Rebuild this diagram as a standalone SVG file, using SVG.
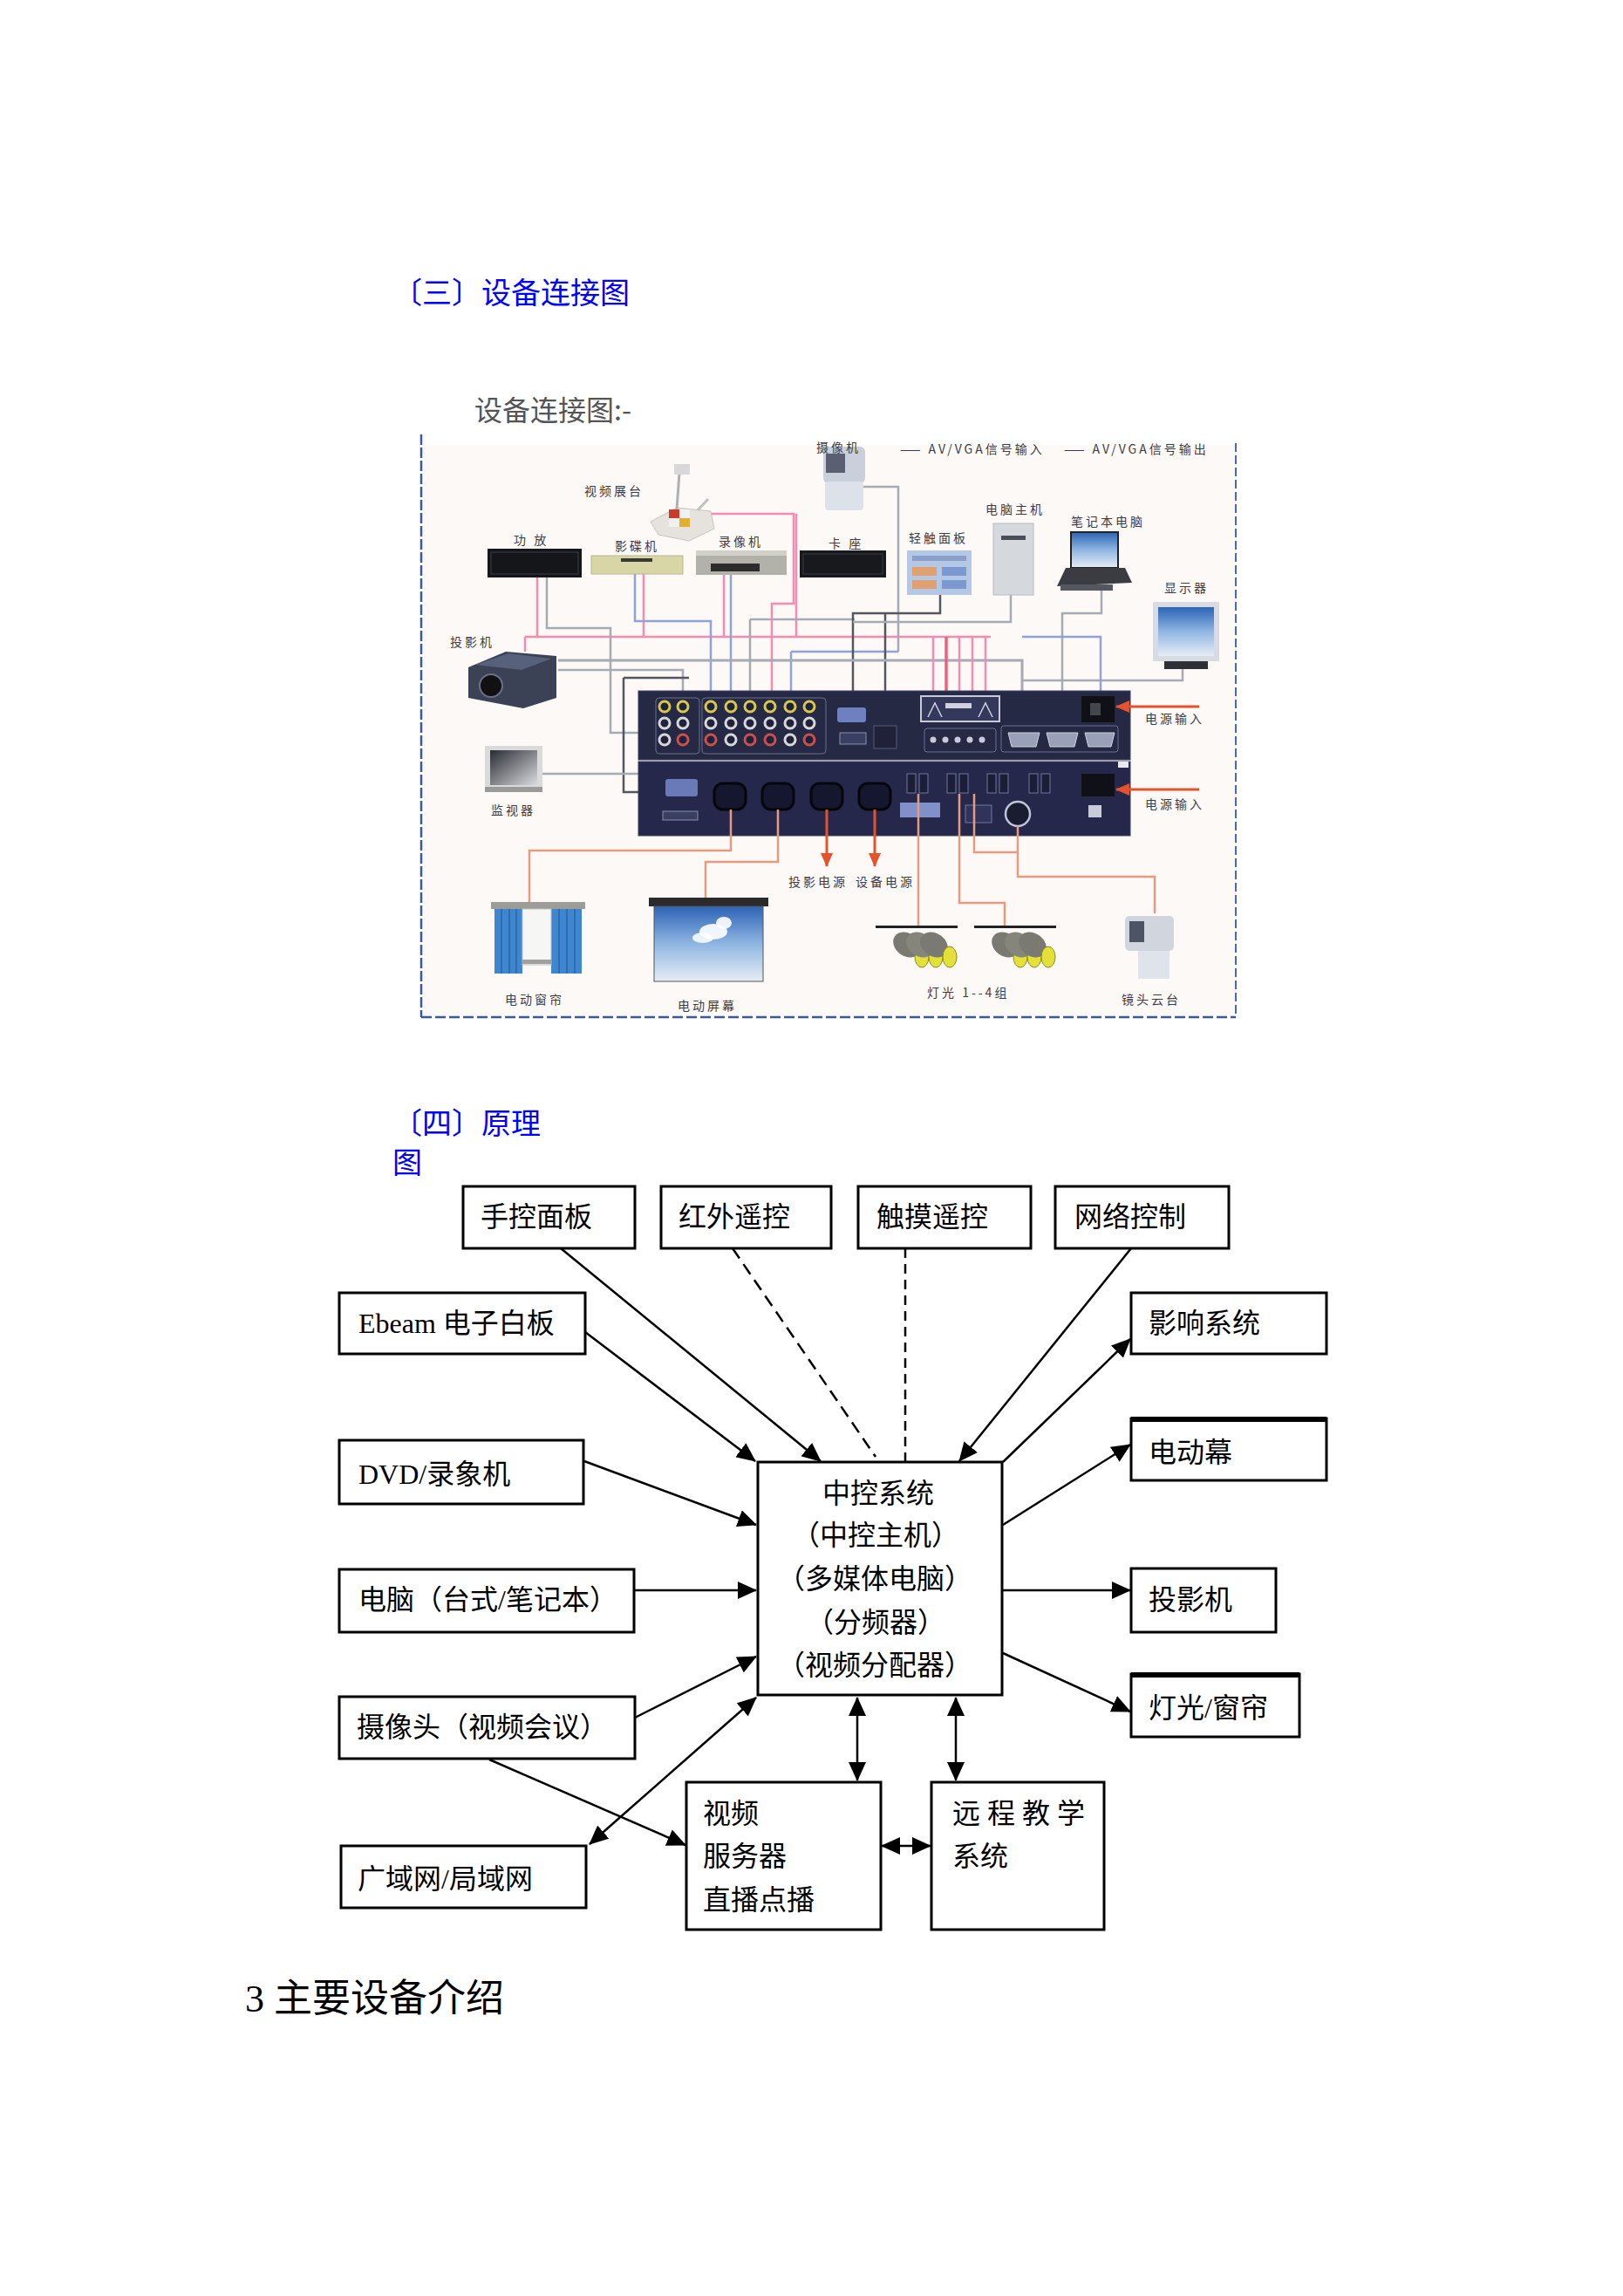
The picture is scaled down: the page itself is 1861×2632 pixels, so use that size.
<svg xmlns="http://www.w3.org/2000/svg" width="1861" height="2632" viewBox="0 0 1861 2632">
<defs>
<style>
.hd{font-family:"Noto Sans CJK SC",sans-serif;font-size:34px;fill:#0000ff}
.sub{font-family:"Noto Sans CJK SC",sans-serif;font-size:32px;fill:#555}
.bt{font-family:"Liberation Serif","Noto Sans CJK SC",serif;font-size:32px;fill:#000}
.bx{fill:#fff;stroke:#000;stroke-width:3}
.cn{fill:none;stroke:#000;stroke-width:2.5}
.lb{font-family:"Noto Sans CJK SC",sans-serif;font-size:14px;fill:#3c3c46;letter-spacing:3px}
.cg{fill:none;stroke:#a6aab2;stroke-width:2.5}
.cp{fill:none;stroke:#f28cb0;stroke-width:2.5}
.cb{fill:none;stroke:#90a2d8;stroke-width:2.5}
.cd{fill:none;stroke:#55575f;stroke-width:2.5}
.cs{fill:none;stroke:#e69a80;stroke-width:2.5}
.cr{fill:none;stroke:#e4532c;stroke-width:3}
.ry{fill:#20223a;stroke:#d8c850;stroke-width:3}
.rw{fill:#20223a;stroke:#d8d8dc;stroke-width:3}
.rr{fill:#20223a;stroke:#c85050;stroke-width:3}
.sk{fill:#15172e;stroke:#05060c;stroke-width:3}
</style>
<marker id="ah" viewBox="0 0 22 20" refX="21" refY="10" markerWidth="22" markerHeight="20" markerUnits="userSpaceOnUse" orient="auto-start-reverse"><path d="M0,0 L22,10 L0,20 Z" fill="#000"/></marker>
<marker id="ar" viewBox="0 0 16 14" refX="15" refY="7" markerWidth="16" markerHeight="14" markerUnits="userSpaceOnUse" orient="auto"><path d="M0,0 L16,7 L0,14 Z" fill="#e4532c"/></marker>
<linearGradient id="sky" x1="0" y1="0" x2="0" y2="1"><stop offset="0" stop-color="#2d63b6"/><stop offset="0.5" stop-color="#8fb6e2"/><stop offset="1" stop-color="#e6edf5"/></linearGradient>
<linearGradient id="tv" x1="0" y1="0" x2="1" y2="1"><stop offset="0" stop-color="#2a2c34"/><stop offset="1" stop-color="#d8dade"/></linearGradient>
</defs>
<rect width="1861" height="2632" fill="#fff"/>

<text class="hd" x="450" y="348">〔三〕设备连接图</text>
<text class="sub" x="544" y="482">设备连接图:-</text>

<g id="photo">
<rect x="483" y="510" width="934" height="656" fill="#fcf9f7"/>
<line x1="483" y1="498" x2="483" y2="1166" stroke="#3a5aa0" stroke-width="2.5" stroke-dasharray="12 3"/>
<line x1="1417" y1="508" x2="1417" y2="1166" stroke="#4a6ab0" stroke-width="2" stroke-dasharray="10 4"/>
<line x1="483" y1="1166" x2="1417" y2="1166" stroke="#3a5aa0" stroke-width="2.5" stroke-dasharray="12 4"/>

<path class="cp" d="M602,730 H1136 M602,730 V747 M616,662 V730 M738,658 V730 M830,659 V730 M913,589 V730"/>
<path class="cg" d="M627,662 V720 H700 V840 H732"/>
<path class="cb" d="M728,658 V712 H815 V792"/>
<path class="cb" d="M838,659 V792"/>
<path class="cg" d="M860,710 V792 M860,710 H980"/>
<path class="cp" d="M815,589 H910 V692 H885 V792"/>
<path class="cg" d="M990,558 H1030 V747"/>
<path class="cb" d="M907,747 H1030 M907,747 V792"/>
<path class="cd" d="M1078,682 V703 H978 V792 M1015,703 V858"/>
<path class="cg" d="M1159,682 V713 H978"/>
<path class="cg" d="M640,757 H1172 V792" style="stroke-width:3"/>
<path class="cg" d="M640,768 H783 V792"/>
<path class="cd" d="M715,777 V908 H732 M715,777 H790"/>
<path class="cg" d="M1263,677 V703 H1218 V858"/>
<path class="cg" d="M1356,767 V780 H1172"/>
<path class="cb" d="M1172,730 H1262 V792"/>
<path class="cp" d="M1070,730 V858 M1100,730 V858 M1115,730 V858 M1130,730 V858"/>
<path d="M1085,730 V858" fill="none" stroke="#f0607e" stroke-width="3.5"/>
<path class="cg" d="M622,887 H732"/>

<rect x="944" y="512" width="48" height="42" rx="6" fill="#c9d0dc"/>
<rect x="947" y="520" width="22" height="22" fill="#5a6072"/>
<rect x="946" y="552" width="44" height="33" rx="4" fill="#dde2ea"/>
<polygon points="746,598 776,582 815,586 819,606 790,620 755,613" fill="#e6e2de" stroke="#c8c4c0"/>
<rect x="767" y="584" width="12" height="10" fill="#c83c2c"/><rect x="779" y="584" width="12" height="10" fill="#f0f0f0"/>
<rect x="767" y="594" width="12" height="10" fill="#f0f0f0"/><rect x="779" y="594" width="12" height="10" fill="#e0b030"/>
<line x1="776" y1="584" x2="779" y2="542" stroke="#b0b0b0" stroke-width="3"/>
<rect x="773" y="532" width="18" height="12" fill="#d8d8d8"/>
<line x1="800" y1="585" x2="812" y2="572" stroke="#c0c0c0" stroke-width="3"/>

<rect x="559" y="629" width="108" height="33" fill="#15161a"/>
<rect x="563" y="633" width="100" height="25" fill="none" stroke="#3a3c44"/>
<rect x="678" y="637" width="105" height="21" fill="#d8d6a6" stroke="#b8b690"/>
<rect x="712" y="640" width="36" height="4" fill="#3a3a30"/>
<rect x="798" y="631" width="104" height="28" fill="#b2b2aa"/>
<rect x="798" y="631" width="104" height="6" fill="#d0d0c8"/>
<rect x="815" y="646" width="56" height="9" fill="#2c2c2c"/>
<rect x="917" y="631" width="99" height="31" fill="#18191d"/>
<rect x="921" y="635" width="91" height="23" fill="none" stroke="#3a3c44"/>
<rect x="1040" y="631" width="74" height="51" fill="#b4c8e6"/>
<rect x="1046" y="637" width="62" height="6" fill="#8aa0c8"/>
<rect x="1046" y="650" width="28" height="10" fill="#e0a070"/><rect x="1080" y="650" width="28" height="10" fill="#7c98d0"/>
<rect x="1046" y="665" width="28" height="10" fill="#e0a070"/><rect x="1080" y="665" width="28" height="10" fill="#7c98d0"/>
<rect x="1139" y="600" width="46" height="82" fill="#d5d9de" stroke="#b8bcc2"/>
<rect x="1148" y="614" width="28" height="5" fill="#4a4e58"/>
<rect x="1228" y="610" width="54" height="41" fill="url(#sky)" stroke="#222" stroke-width="2"/>
<polygon points="1222,651 1290,651 1298,668 1212,672" fill="#3a3c42"/>
<rect x="1216" y="670" width="60" height="7" fill="#55575e"/>
<rect x="1322" y="690" width="76" height="68" fill="#d8dce2"/>
<rect x="1328" y="696" width="64" height="56" fill="url(#sky)"/>
<rect x="1335" y="758" width="50" height="9" fill="#2e3036"/>
<polygon points="537,765 580,747 638,752 638,800 600,812 537,800" fill="#3b4256"/>
<polygon points="545,762 583,749 632,755 598,768" fill="#56617c"/>
<circle cx="563" cy="786" r="13" fill="#111" stroke="#6a7088" stroke-width="2"/>
<rect x="556" y="855" width="66" height="53" fill="#dadada"/>
<rect x="562" y="860" width="54" height="40" fill="url(#tv)"/>
<rect x="556" y="902" width="66" height="6" fill="#9a9a9a"/>

<rect x="732" y="792" width="564" height="79" fill="#262944" stroke="#3c4060"/>
<rect x="732" y="873" width="564" height="85" fill="#25284a" stroke="#3c4060"/>
<rect x="752" y="800" width="50" height="64" rx="4" fill="none" stroke="#6a7090"/>
<rect x="805" y="800" width="142" height="64" rx="4" fill="none" stroke="#6a7090"/>
<g>
<circle class="ry" cx="762" cy="810" r="6"/><circle class="ry" cx="783" cy="810" r="6"/>
<circle class="rw" cx="762" cy="829" r="6"/><circle class="rw" cx="783" cy="829" r="6"/>
<circle class="rw" cx="762" cy="848" r="6"/><circle class="rr" cx="783" cy="848" r="6"/>
<circle class="ry" cx="815" cy="810" r="6"/><circle class="ry" cx="838" cy="810" r="6"/><circle class="ry" cx="860" cy="810" r="6"/><circle class="ry" cx="883" cy="810" r="6"/><circle class="ry" cx="906" cy="810" r="6"/><circle class="ry" cx="928" cy="810" r="6"/>
<circle class="rw" cx="815" cy="829" r="6"/><circle class="rw" cx="838" cy="829" r="6"/><circle class="rw" cx="860" cy="829" r="6"/><circle class="rw" cx="883" cy="829" r="6"/><circle class="rw" cx="906" cy="829" r="6"/><circle class="rw" cx="928" cy="829" r="6"/>
<circle class="rr" cx="815" cy="848" r="6"/><circle class="rw" cx="838" cy="848" r="6"/><circle class="rr" cx="860" cy="848" r="6"/><circle class="rr" cx="883" cy="848" r="6"/><circle class="rw" cx="906" cy="848" r="6"/><circle class="rr" cx="928" cy="848" r="6"/>
</g>
<rect x="960" y="811" width="33" height="17" rx="3" fill="#6f80c0"/>
<rect x="963" y="840" width="30" height="13" fill="#3a3e60" stroke="#8a90b0"/>
<rect x="1002" y="832" width="26" height="26" fill="#20223a" stroke="#555a78"/>
<rect x="1056" y="798" width="90" height="29" fill="#34385a" stroke="#c8cad8" stroke-width="2"/>
<path d="M1064,822 L1072,806 L1080,822 M1122,822 L1130,806 L1138,822" fill="none" stroke="#d0d2e0" stroke-width="1.5"/>
<rect x="1084" y="806" width="30" height="6" fill="#d0d2e0"/>
<rect x="1060" y="835" width="82" height="27" rx="3" fill="none" stroke="#6a7090"/>
<g fill="#c8cad8"><circle cx="1070" cy="848" r="3.5"/><circle cx="1084" cy="848" r="3.5"/><circle cx="1098" cy="848" r="3.5"/><circle cx="1112" cy="848" r="3.5"/><circle cx="1126" cy="848" r="3.5"/></g>
<rect x="1148" y="832" width="134" height="30" rx="3" fill="none" stroke="#6a7090"/>
<g fill="#9aa0b8" stroke="#d0d2e0"><polygon points="1156,840 1192,840 1188,856 1160,856"/><polygon points="1200,840 1236,840 1232,856 1204,856"/><polygon points="1244,840 1278,840 1274,856 1248,856"/></g>
<rect x="1240" y="798" width="38" height="30" fill="#101116"/>
<rect x="1250" y="806" width="12" height="14" fill="#44464e"/>
<rect x="1282" y="873" width="12" height="7" fill="#e8e8f0"/>
<rect x="763" y="893" width="37" height="20" rx="3" fill="#6a7ab8"/>
<rect x="760" y="930" width="40" height="10" fill="#3a3e60" stroke="#8a90b0"/>
<rect class="sk" x="819" y="898" width="36" height="30" rx="10"/>
<rect class="sk" x="874" y="898" width="36" height="30" rx="10"/>
<rect class="sk" x="930" y="898" width="36" height="30" rx="10"/>
<rect class="sk" x="985" y="898" width="36" height="30" rx="10"/>
<g fill="#1c1e36" stroke="#7078a0"><rect x="1040" y="887" width="10" height="22"/><rect x="1054" y="887" width="10" height="22"/><rect x="1086" y="887" width="10" height="22"/><rect x="1100" y="887" width="10" height="22"/><rect x="1132" y="887" width="10" height="22"/><rect x="1146" y="887" width="10" height="22"/><rect x="1180" y="887" width="10" height="22"/><rect x="1194" y="887" width="10" height="22"/></g>
<rect x="1032" y="920" width="46" height="17" fill="#8090c8"/>
<rect x="1107" y="923" width="30" height="20" fill="#30345a" stroke="#7078a0"/>
<circle cx="1167" cy="933" r="14" fill="#1a1c30" stroke="#c0c4d8" stroke-width="2.5"/>
<rect x="1240" y="887" width="38" height="26" fill="#101116"/>
<rect x="1248" y="923" width="15" height="14" fill="#c8ccd8"/>

<path class="cr" d="M1375,810 H1280" marker-end="url(#ar)"/>
<path class="cr" d="M1375,905 H1280" marker-end="url(#ar)"/>

<path class="cs" d="M838,928 V975 H607 V1034"/>
<path class="cs" d="M892,928 V988 H809 V1029"/>
<path class="cr" d="M948,928 V993" marker-end="url(#ar)"/>
<path class="cr" d="M1003,928 V993" marker-end="url(#ar)"/>
<path class="cs" d="M1053,910 V1063"/>
<path class="cs" d="M1100,910 V1035 H1152 V1063"/>
<path class="cs" d="M1117,910 V977 H1167 M1167,947 V1005 H1324 V1047"/>

<rect x="563" y="1034" width="108" height="8" fill="#9c9c98"/>
<rect x="567" y="1042" width="32" height="74" fill="#3f86d0"/>
<rect x="632" y="1042" width="35" height="74" fill="#3f86d0"/>
<path d="M575,1042 V1116 M584,1042 V1116 M592,1042 V1116 M641,1042 V1116 M650,1042 V1116 M659,1042 V1116" stroke="#2f6cb0" stroke-width="2"/>
<rect x="599" y="1042" width="33" height="64" fill="#f6f6f4" stroke="#c0c0c0"/>
<rect x="599" y="1100" width="33" height="5" fill="#a0a0a0"/>
<rect x="744" y="1029" width="137" height="10" fill="#2a2a2a"/>
<rect x="750" y="1039" width="125" height="86" fill="url(#sky)" stroke="#555"/>
<ellipse cx="818" cy="1068" rx="16" ry="9" fill="#fff" opacity="0.9"/>
<ellipse cx="830" cy="1058" rx="9" ry="7" fill="#fff" opacity="0.9"/>
<ellipse cx="806" cy="1075" rx="12" ry="6" fill="#fff" opacity="0.85"/>
<rect x="1004" y="1061" width="94" height="3" fill="#222"/>
<rect x="1117" y="1061" width="94" height="3" fill="#222"/>
<g id="lamps1">
<ellipse cx="1040" cy="1083" rx="17" ry="13" transform="rotate(35 1040 1083)" fill="#7a7a72"/>
<ellipse cx="1057" cy="1097" rx="8" ry="12" fill="#e3e03a" stroke="#8a8a20"/>
<ellipse cx="1055" cy="1083" rx="17" ry="13" transform="rotate(35 1055 1083)" fill="#85857c"/>
<ellipse cx="1073" cy="1097" rx="8" ry="12" fill="#e3e03a" stroke="#8a8a20"/>
<ellipse cx="1071" cy="1083" rx="17" ry="13" transform="rotate(35 1071 1083)" fill="#7a7a72"/>
<ellipse cx="1089" cy="1097" rx="8" ry="12" fill="#e3e03a" stroke="#8a8a20"/>
</g>
<use href="#lamps1" transform="translate(113,0)"/>
<rect x="1290" y="1050" width="56" height="40" rx="5" fill="#d0d5de"/>
<rect x="1295" y="1056" width="17" height="24" fill="#4c5466"/>
<rect x="1305" y="1090" width="36" height="32" fill="#dfe3ea"/>

<text class="lb" x="936" y="518">摄像机</text>
<text class="lb" x="1032" y="520">—— AV/VGA信号输入</text>
<text class="lb" x="1220" y="520">—— AV/VGA信号输出</text>
<text class="lb" x="670" y="568">视频展台</text>
<text class="lb" x="589" y="624">功 放</text>
<text class="lb" x="705" y="631">影碟机</text>
<text class="lb" x="824" y="626">录像机</text>
<text class="lb" x="950" y="628">卡 座</text>
<text class="lb" x="1042" y="622">轻触面板</text>
<text class="lb" x="1130" y="589">电脑主机</text>
<text class="lb" x="1228" y="603">笔记本电脑</text>
<text class="lb" x="1335" y="679">显示器</text>
<text class="lb" x="516" y="741">投影机</text>
<text class="lb" x="1313" y="829">电源输入</text>
<text class="lb" x="563" y="934">监视器</text>
<text class="lb" x="1313" y="927">电源输入</text>
<text class="lb" x="904" y="1016">投影电源</text>
<text class="lb" x="981" y="1016">设备电源</text>
<text class="lb" x="579" y="1151">电动窗帘</text>
<text class="lb" x="777" y="1158">电动屏幕</text>
<text class="lb" x="1063" y="1143">灯光 1--4组</text>
<text class="lb" x="1286" y="1151">镜头云台</text>
</g>

<text class="hd" x="450" y="1300">〔四〕原理</text>
<text class="hd" x="450" y="1345">图</text>

<g id="connectors">
<path class="cn" d="M643,1431 L941,1675" marker-end="url(#ah)"/>
<path class="cn" d="M840,1431 L1004,1670" stroke-dasharray="14 8"/>
<path class="cn" d="M1038,1431 V1676" stroke-dasharray="11 7"/>
<path class="cn" d="M1297,1431 L1100,1675" marker-end="url(#ah)"/>
<path class="cn" d="M671,1527 L866,1675" marker-end="url(#ah)"/>
<path class="cn" d="M670,1675 L867,1748" marker-end="url(#ah)"/>
<path class="cn" d="M728,1823 H867" marker-end="url(#ah)"/>
<path class="cn" d="M728,1969 L867,1899" marker-end="url(#ah)"/>
<path class="cn" d="M676,2114 L867,1946" marker-start="url(#ah)" marker-end="url(#ah)"/>
<path class="cn" d="M561,2017 L786,2115" marker-end="url(#ah)"/>
<path class="cn" d="M1150,1676 L1296,1535" marker-end="url(#ah)"/>
<path class="cn" d="M1150,1748 L1296,1656" marker-end="url(#ah)"/>
<path class="cn" d="M1150,1823 H1296" marker-end="url(#ah)"/>
<path class="cn" d="M1150,1895 L1296,1962" marker-end="url(#ah)"/>
<path class="cn" d="M983,1946 V2041" marker-start="url(#ah)" marker-end="url(#ah)"/>
<path class="cn" d="M1096,1946 V2041" marker-start="url(#ah)" marker-end="url(#ah)"/>
<path class="cn" d="M1011,2116 H1067" marker-start="url(#ah)" marker-end="url(#ah)"/>
</g>

<g id="n-shoukong"><rect class="bx" x="531" y="1360" width="197" height="71"/><text class="bt" x="551" y="1406">手控面板</text></g>
<g id="n-hongwai"><rect class="bx" x="758" y="1360" width="195" height="71"/><text class="bt" x="778" y="1406">红外遥控</text></g>
<g id="n-chumo"><rect class="bx" x="984" y="1360" width="198" height="71"/><text class="bt" x="1005" y="1406">触摸遥控</text></g>
<g id="n-wangluo"><rect class="bx" x="1210" y="1360" width="199" height="71"/><text class="bt" x="1232" y="1406">网络控制</text></g>
<g id="n-ebeam"><rect class="bx" x="389" y="1482" width="282" height="70"/><text class="bt" x="411" y="1528">Ebeam 电子白板</text></g>
<g id="n-dvd"><rect class="bx" x="389" y="1651" width="280" height="73"/><text class="bt" x="411" y="1701">DVD/录象机</text></g>
<g id="n-diannao"><rect class="bx" x="389" y="1799" width="338" height="72"/><text class="bt" x="411" y="1845">电脑（台式/笔记本）</text></g>
<g id="n-shexiang"><rect class="bx" x="389" y="1945" width="339" height="71"/><text class="bt" x="409" y="1991">摄像头（视频会议）</text></g>
<g id="n-wan"><rect class="bx" x="391" y="2116" width="281" height="71"/><text class="bt" x="410" y="2165">广域网/局域网</text></g>
<g id="n-zhongkong"><rect class="bx" x="869" y="1676" width="280" height="267"/>
<text class="bt" x="943" y="1723">中控系统</text>
<text class="bt" x="908" y="1771">（中控主机）</text>
<text class="bt" x="891" y="1821">（多媒体电脑）</text>
<text class="bt" x="924" y="1871">（分频器）</text>
<text class="bt" x="891" y="1920">（视频分配器）</text></g>
<g id="n-shipin"><rect class="bx" x="787" y="2043" width="223" height="169"/>
<text class="bt" x="806" y="2090">视频</text><text class="bt" x="806" y="2139">服务器</text><text class="bt" x="806" y="2189">直播点播</text></g>
<g id="n-yuancheng"><rect class="bx" x="1068" y="2043" width="198" height="169"/>
<text class="bt" x="1092" y="2090">远 程 教 学</text><text class="bt" x="1092" y="2139">系统</text></g>
<g id="n-yingxiang"><rect class="bx" x="1297" y="1482" width="224" height="70"/><text class="bt" x="1317" y="1528">影响系统</text></g>
<g id="n-diandongmu"><rect class="bx" x="1297" y="1626" width="224" height="71"/><line x1="1297" y1="1627" x2="1521" y2="1627" stroke="#000" stroke-width="6"/><text class="bt" x="1317" y="1676">电动幕</text></g>
<g id="n-touying"><rect class="bx" x="1297" y="1798" width="166" height="73"/><text class="bt" x="1317" y="1845">投影机</text></g>
<g id="n-dengguang"><rect class="bx" x="1297" y="1919" width="193" height="72"/><line x1="1297" y1="1920" x2="1490" y2="1920" stroke="#000" stroke-width="6"/><text class="bt" x="1317" y="1969">灯光/窗帘</text></g>

<text x="281" y="2306" style="font-family:'Liberation Serif','Noto Sans CJK SC',serif;font-size:44px;fill:#000">3 主要设备介绍</text>
</svg>
